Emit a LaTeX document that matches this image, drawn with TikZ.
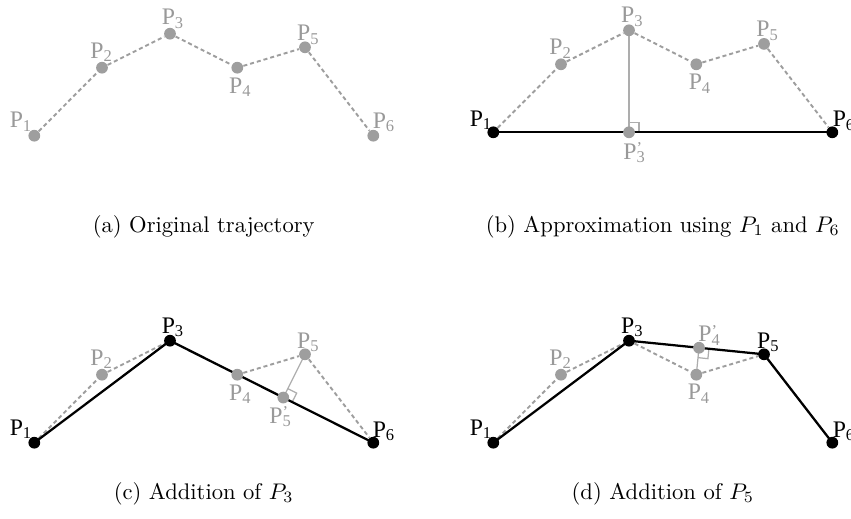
\documentclass[tikz,border=0pt]{standalone}
\usepackage{fontspec}
\newfontfamily\labfont{Liberation Serif}
\usetikzlibrary{calc}
\pgfdeclarelayer{bg}
\pgfsetlayers{bg,main}
\definecolor{ptgray}{gray}{0.62}
\definecolor{labgray}{gray}{0.60}
\definecolor{perpgray}{gray}{0.68}
\newcommand\plab[1]{P\raisebox{-1.5pt}{\fontsize{7.3}{7.3}\selectfont #1}}
\newcommand\pplab[1]{P\rlap{\raisebox{2.5pt}{\fontsize{7.3}{7.3}\selectfont ’}}\raisebox{-1.5pt}{\fontsize{7.3}{7.3}\selectfont #1}}
\newcommand\rangmark[3]{%
  \draw[perp] ($(#1)!4.4pt!(#2)$) -- ($($(#1)!4.4pt!(#2)$)+($(#1)!4.4pt!(#3)$)-(#1)$) -- ($(#1)!4.4pt!(#3)$);}
\tikzset{
  gpt/.style={circle, fill=ptgray, inner sep=0pt, minimum size=5.2pt},
  bpt/.style={circle, fill=black, inner sep=0pt, minimum size=5.2pt},
  traj/.style={draw=ptgray, line width=0.85pt, dash pattern=on 1.8pt off 1.3pt},
  seg/.style={draw=black, line width=1pt},
  perp/.style={draw=perpgray, line width=0.55pt},
  blab/.style={font=\labfont\fontsize{10.5}{12}\selectfont, inner sep=0pt, anchor=base west, text=black},
  glab/.style={blab, text=labgray},
  captext/.style={font=\fontsize{10}{12}\selectfont, inner sep=0pt, anchor=base},
}
\begin{document}
\begin{tikzpicture}[x=0.4425pt, y=-0.4425pt]
\useasboundingbox (0,0) rectangle (851,518);

% ---------- (a) ----------
\node[gpt] (a1) at (34.3,135.7) {};
\node[gpt] (a2) at (102,67.7) {};
\node[gpt] (a3) at (170,33.7) {};
\node[gpt] (a4) at (237.3,67.7) {};
\node[gpt] (a5) at (305,47.3) {};
\node[gpt] (a6) at (373.3,135.7) {};
\begin{pgfonlayer}{bg}
\draw[traj] (a1) -- (a2) -- (a3) -- (a4) -- (a5) -- (a6);
\end{pgfonlayer}
\node[glab] (a1l) at ($(a1)+(-25,-8)$) {\plab{1}};
\node[glab] (a2l) at ($(a2)+(-12,-9.4)$) {\plab{2}};
\node[glab] (a3l) at ($(a3)+(-8.7,-8.7)$) {\plab{3}};
\node[glab] (a4l) at ($(a4)+(-8.6,25.6)$) {\plab{4}};
\node[glab] (a5l) at ($(a5)+(-8.3,-6.6)$) {\plab{5}};
\node[glab] (a6l) at ($(a6)+(-1,-7.4)$) {\plab{6}};
\node[captext] (capa) at (203.7,232.5) {(a) Original trajectory};

% ---------- (b) ----------
\begin{scope}[shift={(459,-3.4)}]
\node[bpt] (b1) at (34.3,135.7) {};
\node[gpt] (b2) at (102,67.7) {};
\node[gpt] (b3) at (170,33.7) {};
\node[gpt] (b4) at (237.3,67.7) {};
\node[gpt] (b5) at (305,47.3) {};
\node[bpt] (b6) at (373.3,135.7) {};
\end{scope}
\node[gpt] (b3p) at ($(b1)!(b3)!(b6)$) {};
\begin{pgfonlayer}{bg}
\draw[traj] (b1) -- (b2) -- (b3) -- (b4) -- (b5) -- (b6);
\draw[perp] (b3.center) -- (b3p.center);
\rangmark{b3p}{b6}{b3}
\draw[seg] (b1.center) -- (b6.center);
\end{pgfonlayer}
\node[blab] (b1l) at ($(b1)+(-24,-6.3)$) {\plab{1}};
\node[glab] (b2l) at ($(b2)+(-12,-9.6)$) {\plab{2}};
\node[glab] (b3l) at ($(b3)+(-8.3,-7.4)$) {\plab{3}};
\node[glab] (b4l) at ($(b4)+(-8,25.7)$) {\plab{4}};
\node[glab] (b5l) at ($(b5)+(-8,-7.2)$) {\plab{5}};
\node[blab] (b6l) at ($(b6)+(0,-5.6)$) {\plab{6}};
\node[glab] (b3pl) at ($(b3p)+(-6,27)$) {\pplab{3}};
\node[captext] (capb) at (662.8,232.5) {(b) Approximation using $P_1$ and $P_6$};

% ---------- (c) ----------
\begin{scope}[shift={(0,307)}]
\node[bpt] (c1) at (34.3,135.7) {};
\node[gpt] (c2) at (102,67.7) {};
\node[bpt] (c3) at (170,33.7) {};
\node[gpt] (c4) at (237.3,67.7) {};
\node[gpt] (c5) at (305,47.3) {};
\node[bpt] (c6) at (373.3,135.7) {};
\end{scope}
\node[gpt] (c5p) at ($(c3)!(c5)!(c6)$) {};
\begin{pgfonlayer}{bg}
\draw[traj] (c1) -- (c2) -- (c3) -- (c4) -- (c5) -- (c6);
\draw[perp] (c5.center) -- (c5p.center);
\rangmark{c5p}{c6}{c5}
\draw[seg] (c1.center) -- (c3.center) -- (c6.center);
\end{pgfonlayer}
\node[blab] (c1l) at ($(c1)+(-25,-7.7)$) {\plab{1}};
\node[glab] (c2l) at ($(c2)+(-12,-9.3)$) {\plab{2}};
\node[blab] (c3l) at ($(c3)+(-8.7,-7.7)$) {\plab{3}};
\node[glab] (c4l) at ($(c4)+(-8.6,25.7)$) {\plab{4}};
\node[glab] (c5l) at ($(c5)+(-8.3,-6)$) {\plab{5}};
\node[blab] (c6l) at ($(c6)+(-1,-5.4)$) {\plab{6}};
\node[glab] (c5pl) at ($(c5p)+(-14.4,26)$) {\pplab{5}};
\node[captext] (capc) at (203.7,499.5) {(c) Addition of $P_3$};

% ---------- (d) ----------
\begin{scope}[shift={(459,307)}]
\node[bpt] (d1) at (34.3,135.7) {};
\node[gpt] (d2) at (102,67.7) {};
\node[bpt] (d3) at (170,33.7) {};
\node[gpt] (d4) at (237.3,67.7) {};
\node[bpt] (d5) at (305,47.3) {};
\node[bpt] (d6) at (373.3,135.7) {};
\end{scope}
\node[gpt] (d4p) at ($(d3)!(d4)!(d5)$) {};
\begin{pgfonlayer}{bg}
\draw[traj] (d1) -- (d2) -- (d3) -- (d4) -- (d5) -- (d6);
\draw[perp] (d4.center) -- (d4p.center);
\rangmark{d4p}{d5}{d4}
\draw[seg] (d1.center) -- (d3.center) -- (d5.center) -- (d6.center);
\end{pgfonlayer}
\node[blab] (d1l) at ($(d1)+(-24,-7.7)$) {\plab{1}};
\node[glab] (d2l) at ($(d2)+(-12,-9.3)$) {\plab{2}};
\node[blab] (d3l) at ($(d3)+(-8.3,-7.7)$) {\plab{3}};
\node[glab] (d4l) at ($(d4)+(-9,25)$) {\plab{4}};
\node[glab] (d4pl) at ($(d4p)+(-1,-6)$) {\pplab{4}};
\node[blab] (d5l) at ($(d5)+(-7.3,-6)$) {\plab{5}};
\node[blab] (d6l) at ($(d6)+(0,-5.4)$) {\plab{6}};
\node[captext] (capd) at (662.8,499.5) {(d) Addition of $P_5$};
\end{tikzpicture}
\end{document}
